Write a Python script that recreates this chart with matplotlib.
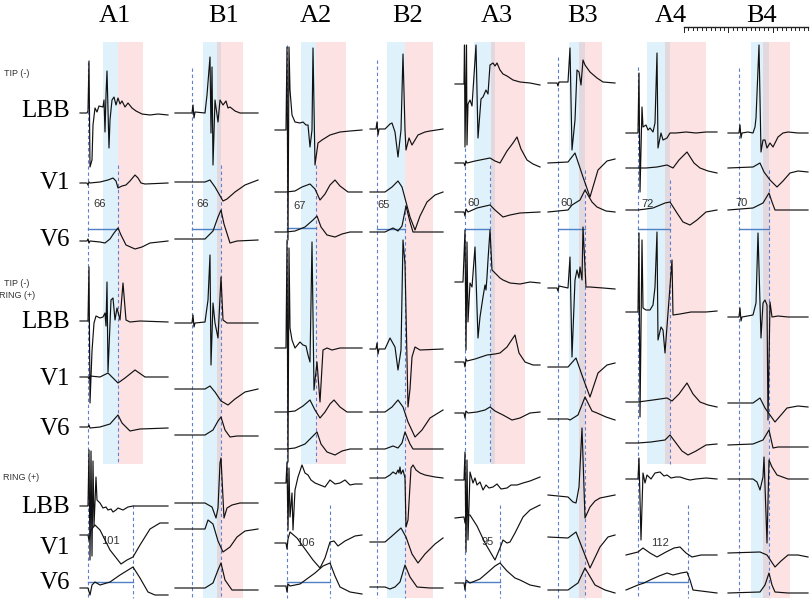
import matplotlib
matplotlib.use("Agg")
import matplotlib.pyplot as plt

# panel order and trace order
columns = ["A1", "B1", "A2", "B2", "A3", "B3", "A4", "B4"]
sections = ["tip", "bip", "ring"]
leads = ["LBB", "V1", "V6"]

# traces as (sample, amplitude) pairs
A1 = {
    ("tip", "LBB"): [(0,0),(7,0),(8,2),(9,52),(10,-54),(12,-47),(13,-12),(15,5),(17,1),(19,7),(23,6),(24,13),(25,-19),(26,18),(27,42),(28,3),(29,-35),(30,-7),(32,13),(34,16),(36,8),(38,15),(40,9),(42,12),(45,6),(48,10),(52,5),(56,2),(62,-1),(70,-2),(78,-1),(88,-2)],
    ("tip", "V1"): [(0,0),(7,0),(8,-2),(9,1),(10,0),(20,1),(28,3),(33,5),(36,2),(38,-5),(42,-3),(46,-2),(50,2),(55,8),(58,5),(61,0),(65,-1),(88,0)],
    ("tip", "V6"): [(0,0),(7,0),(8,2),(9,-2),(10,0),(20,-1),(25,-2),(30,2),(34,8),(38,13),(41,6),(46,-4),(55,-8),(62,-6),(70,-2),(88,0)],
    ("bip", "LBB"): [(0,0),(8,0),(9,54),(10,-82),(12,-30),(14,-2),(16,5),(20,3),(23,4),(25,8),(26,-5),(27,39),(28,-51),(31,21),(33,23),(35,1),(37,13),(40,1),(43,38),(46,1),(50,-1),(60,0),(88,-1)],
    ("bip", "V1"): [(0,0),(8,0),(9,-2),(10,1),(20,0),(28,4),(38,-6),(45,-1),(55,7),(65,0),(88,0)],
    ("bip", "V6"): [(0,0),(8,0),(9,2),(10,-1),(20,0),(30,3),(38,12),(42,4),(50,-4),(60,-2),(88,-1)],
    ("ring", "LBB"): [(0,0),(8,0),(9,56),(10,-54),(11,55),(12,-50),(13,45),(14,-20),(16,29),(17,6),(20,3),(23,-2),(26,-1),(28,-4),(31,-3),(33,-6),(36,-4),(38,-2),(43,-4),(48,-1),(53,0),(88,0)],
    ("ring", "V1"): [(0,0),(8,0),(9,-5),(11,5),(15,10),(20,5),(30,-15),(41,-29),(47,-25),(53,-22),(60,-10),(70,6),(80,12),(88,12)],
    ("ring", "V6"): [(0,0),(8,0),(10,-7),(12,3),(15,6),(20,3),(30,6),(40,13),(53,21),(60,10),(68,-4),(75,-7),(88,-7)],
}
B1 = {
    ("tip", "LBB"): [(0,0),(17,0),(18,8),(19,-5),(20,1),(30,0),(32,18),(35,56),(36,-20),(37,46),(38,-52),(40,13),(43,-9),(45,13),(48,8),(51,12),(53,5),(55,6),(60,2),(65,0),(83,0)],
    ("tip", "V1"): [(0,0),(30,0),(35,2),(40,-5),(48,-19),(52,-17),(60,-10),(70,-3),(83,2)],
    ("tip", "V6"): [(0,0),(30,0),(38,8),(43,22),(46,29),(49,15),(55,-4),(62,-2),(83,-1)],
    ("bip", "LBB"): [(0,0),(17,0),(18,8),(19,-4),(20,0),(30,1),(33,23),(35,68),(36,-42),(38,20),(40,0),(43,-15),(46,46),(48,3),(52,0),(83,0)],
    ("bip", "V1"): [(0,0),(30,0),(35,3),(40,-3),(46,-12),(53,-16),(60,-10),(70,-3),(83,0)],
    ("bip", "V6"): [(0,0),(30,0),(38,5),(43,14),(46,18),(50,5),(55,-2),(62,-1),(83,-1)],
    ("ring", "LBB"): [(0,0),(30,0),(37,-4),(41,-15),(43,-5),(45,40),(46,45),(49,-15),(52,-5),(57,-2),(65,0),(83,0)],
    ("ring", "V1"): [(0,0),(30,0),(33,9),(38,5),(43,-12),(48,-23),(55,-18),(62,-8),(70,-2),(83,0)],
    ("ring", "V6"): [(0,0),(30,0),(38,5),(43,18),(46,25),(50,8),(57,-2),(83,-2)],
}
A2 = {
    ("tip", "LBB"): [(0,0),(11,0),(12,83),(13,-110),(14,83),(15,40),(17,15),(20,8),(25,7),(28,8),(31,5),(33,5),(35,-17),(37,0),(38,82),(40,-35),(43,-13),(47,-10),(55,-5),(65,-2),(75,-1),(87,0)],
    ("tip", "V1"): [(0,0),(11,0),(20,1),(27,5),(35,8),(40,3),(45,-8),(50,-2),(55,7),(60,12),(65,6),(73,0),(87,0)],
    ("tip", "V6"): [(0,0),(11,0),(20,1),(30,5),(38,12),(42,16),(46,5),(52,-3),(60,-5),(67,-2),(75,0),(87,0)],
    ("bip", "LBB"): [(0,0),(11,0),(12,108),(13,-114),(14,100),(15,20),(17,8),(20,0),(25,6),(28,3),(31,2),(33,-7),(35,-14),(37,106),(39,-42),(42,-14),(45,-54),(48,-2),(52,0),(57,-2),(65,0),(87,0)],
    ("bip", "V1"): [(0,0),(11,0),(20,1),(28,6),(35,12),(40,2),(45,-6),(50,0),(55,8),(59,12),(65,5),(72,0),(87,0)],
    ("bip", "V6"): [(0,0),(11,0),(20,1),(30,5),(38,13),(42,17),(46,5),(52,-3),(60,-6),(67,-2),(75,0),(87,0)],
    ("ring", "LBB"): [(0,0),(11,0),(12,21),(13,-47),(14,15),(15,-34),(17,-10),(18,-47),(20,-7),(23,6),(27,18),(30,10),(33,8),(36,3),(40,0),(45,-2),(50,-4),(55,3),(60,-1),(65,0),(70,3),(75,-2),(80,-1),(87,-1)],
    ("ring", "V1"): [(0,0),(11,0),(12,-6),(13,4),(15,11),(22,5),(30,-6),(38,-17),(45,-25),(50,-15),(55,1),(59,2),(63,-3),(70,2),(80,7),(87,8)],
    ("ring", "V6"): [(0,0),(11,0),(12,-6),(13,2),(15,0),(25,2),(40,13),(48,20),(55,23),(60,10),(65,-1),(75,-6),(87,-8)],
}
B2 = {
    ("tip", "LBB"): [(0,0),(6,0),(7,7),(8,-6),(9,0),(15,0),(20,5),(22,6),(25,-3),(28,-28),(31,-1),(33,75),(35,-1),(36,-21),(39,-9),(42,-16),(48,-6),(55,-3),(60,-2),(73,0)],
    ("tip", "V1"): [(0,0),(15,0),(22,5),(28,11),(32,5),(36,-10),(40,-25),(45,-38),(50,-24),(57,-10),(65,-3),(73,0)],
    ("tip", "V6"): [(0,0),(15,0),(23,4),(28,1),(32,6),(36,26),(40,10),(43,0),(50,0),(73,0)],
    ("bip", "LBB"): [(0,0),(6,0),(7,6),(8,-5),(9,0),(15,0),(20,11),(25,2),(28,-21),(31,-1),(33,109),(35,85),(38,-58),(40,-40),(42,-8),(45,2),(50,-1),(73,0)],
    ("bip", "V1"): [(0,0),(15,0),(22,5),(28,12),(33,5),(38,-10),(45,-25),(52,-18),(60,-6),(73,2)],
    ("bip", "V6"): [(0,0),(15,0),(23,3),(28,1),(32,6),(35,17),(40,5),(43,0),(73,0)],
    ("ring", "LBB"): [(0,0),(15,0),(20,3),(23,6),(26,4),(28,8),(29,5),(30,11),(31,4),(33,8),(35,0),(36,-49),(38,-42),(41,10),(43,13),(46,8),(50,5),(55,3),(65,1),(73,0)],
    ("ring", "V1"): [(0,0),(15,0),(22,6),(31,14),(36,5),(42,-12),(48,-21),(55,-12),(65,-2),(73,4)],
    ("ring", "V6"): [(0,0),(15,0),(20,-2),(25,0),(30,5),(35,22),(40,10),(47,0),(60,-1),(73,-1)],
}
A3 = {
    ("tip", "LBB"): [(0,0),(9,0),(9.5,39),(10,-63),(11.5,39),(12,-61),(13,-20),(15,-16),(17,-22),(21,39),(23,-54),(26,-15),(28,-13),(31,-6),(33,-10),(35,19),(38,21),(40,18),(42,21),(45,14),(48,10),(52,8),(58,4),(65,2),(75,1),(85,-1)],
    ("tip", "V1"): [(0,0),(9,0),(10,-3),(11,2),(12,0),(20,2),(30,4),(35,5),(40,2),(45,0),(52,12),(58,20),(62,26),(66,14),(72,3),(78,-1),(85,-4)],
    ("tip", "V6"): [(0,0),(9,0),(10,-4),(11,3),(13,0),(22,4),(35,7),(40,2),(48,-5),(55,-3),(65,-1),(85,0)],
    ("bip", "LBB"): [(0,0),(8,0),(10,52),(11,-68),(12,40),(13,-40),(15,-1),(17,-5),(20,35),(23,-56),(25,-35),(28,-15),(30,-3),(31,-8),(32,5),(33,22),(35,52),(37,12),(40,9),(42,7),(45,4),(48,2),(55,-1),(65,-2),(75,0),(85,-1)],
    ("bip", "V1"): [(0,0),(9,0),(10,-5),(11,3),(12,1),(20,3),(32,7),(40,8),(45,9),(52,15),(60,27),(64,9),(70,0),(78,-3),(85,-3)],
    ("bip", "V6"): [(0,0),(9,0),(10,-5),(11,2),(13,0),(22,1),(30,3),(35,6),(40,2),(48,-2),(57,-7),(65,-5),(75,0),(85,1)],
    ("ring", "LBB"): [(0,0),(9,0),(10,28),(11,-72),(12,20),(13,-60),(15,8),(18,-3),(20,2),(22,-5),(25,-2),(28,-10),(31,-5),(34,-8),(38,-7),(42,-4),(46,-9),(52,-8),(56,-5),(62,-5),(68,-3),(75,-1),(85,3)],
    ("ring", "V1"): [(0,0),(9,1),(10,-5),(11,3),(15,3),(22,-8),(30,-25),(40,-42),(45,-30),(48,-22),(52,-25),(55,-24),(60,-15),(68,1),(75,8),(85,13)],
    ("ring", "V6"): [(0,0),(9,0),(10,-7),(11,3),(15,0),(25,4),(32,10),(40,17),(45,20),(52,12),(60,5),(65,3),(75,-2),(85,-4)],
}
B3 = {
    ("tip", "LBB"): [(0,0),(9,0),(10,-3),(11,1),(20,1),(22,35),(24,-67),(27,-37),(29,13),(31,11),(33,-2),(35,23),(37,18),(42,11),(49,5),(55,1),(67,0)],
    ("tip", "V1"): [(0,0),(20,1),(27,10),(35,-14),(42,-34),(50,-7),(59,2),(67,4)],
    ("tip", "V6"): [(0,0),(20,2),(24,7),(32,12),(37,22),(44,10),(49,5),(58,1),(67,0)],
    ("bip", "LBB"): [(0,0),(9,0),(10,-3),(11,2),(20,0),(22,31),(24,-69),(27,8),(29,18),(31,10),(32,21),(34,8),(35,61),(38,1),(42,1),(55,0),(67,-1)],
    ("bip", "V1"): [(0,0),(20,0),(28,9),(35,-11),(42,-30),(50,-6),(59,2),(67,4)],
    ("bip", "V6"): [(0,0),(20,0),(22,-1),(30,4),(37,22),(44,8),(49,6),(58,2),(67,-1)],
    ("ring", "LBB"): [(0,0),(20,-2),(25,-7),(28,-8),(29,-3),(31,8),(34,67),(37,-23),(42,-12),(47,-6),(52,-3),(67,0)],
    ("ring", "V1"): [(0,0),(20,-1),(28,5),(35,-13),(42,-31),(52,-10),(60,0),(67,2)],
    ("ring", "V6"): [(0,0),(20,0),(30,7),(37,22),(47,5),(57,0),(67,-3)],
}
A4 = {
    ("tip", "LBB"): [(0,0),(12,0),(13,60),(14,-59),(16,26),(17,6),(20,8),(22,3),(24,5),(27,1),(29,10),(31,80),(32,-15),(35,0),(37,-7),(41,-5),(44,0),(50,0),(60,1),(70,0),(80,1),(91,1)],
    ("tip", "V1"): [(0,0),(12,0),(20,0),(31,1),(41,3),(47,0),(53,8),(61,16),(68,5),(74,0),(82,-3),(91,-5)],
    ("tip", "V6"): [(0,0),(12,0),(20,1),(27,2),(39,7),(44,8),(51,-3),(57,-12),(64,-15),(71,-10),(80,-2),(91,0)],
    ("bip", "LBB"): [(0,0),(12,0),(13,79),(14,-105),(16,72),(17,4),(20,2),(24,2),(27,7),(29,25),(31,80),(32,-28),(35,-15),(37,-18),(39,-41),(42,-1),(46,52),(47,-3),(54,-2),(65,0),(80,0),(91,1)],
    ("bip", "V1"): [(0,0),(12,0),(27,2),(41,4),(46,1),(53,8),(61,19),(67,8),(74,0),(82,-3),(91,-5)],
    ("bip", "V6"): [(0,0),(12,0),(25,1),(39,3),(44,8),(50,0),(56,-8),(62,-12),(70,-8),(80,-2),(91,-1)],
    ("ring", "LBB"): [(0,0),(12,0),(13,21),(15,-61),(17,6),(19,-4),(21,4),(25,0),(29,6),(34,7),(38,3),(41,4),(45,1),(50,2),(54,2),(60,0),(64,-1),(70,0),(80,1),(91,0)],
    ("ring", "V1"): [(0,0),(12,3),(17,7),(24,2),(31,-2),(40,3),(48,7),(54,8),(60,2),(66,-2),(75,0),(91,0)],
    ("ring", "V6"): [(0,0),(12,5),(18,7),(24,10),(33,14),(41,17),(47,15),(55,17),(61,18),(64,10),(67,0),(75,-1),(91,-3)],
}
B4 = {
    ("tip", "LBB"): [(0,0),(11,0),(12,8),(13,-5),(14,0),(20,1),(25,0),(27,6),(28,15),(31,88),(33,-19),(35,-7),(37,-7),(39,-15),(42,-10),(45,-14),(50,-4),(55,0),(60,1),(70,0),(80,0)],
    ("tip", "V1"): [(0,0),(25,1),(32,5),(36,-4),(42,-12),(49,-19),(55,-13),(62,-5),(70,-3),(80,-4)],
    ("tip", "V6"): [(0,0),(25,2),(35,7),(41,17),(44,8),(47,0),(55,0),(80,0)],
    ("bip", "LBB"): [(0,0),(11,0),(12,9),(13,-4),(14,0),(25,2),(28,14),(30,84),(33,-21),(35,14),(37,17),(39,12),(40,-103),(42,15),(44,0),(50,1),(60,0),(80,0)],
    ("bip", "V1"): [(0,0),(25,0),(32,5),(37,-5),(42,-12),(47,-19),(53,-12),(59,-5),(70,-3),(80,-4)],
    ("bip", "V6"): [(0,0),(25,1),(35,5),(41,15),(45,-3),(50,-2),(80,-2)],
    ("ring", "LBB"): [(0,0),(25,0),(29,-3),(32,-11),(35,2),(36,22),(39,-64),(41,19),(44,12),(49,4),(60,0),(80,0)],
    ("ring", "V1"): [(0,0),(32,1),(39,-2),(43,-8),(47,-14),(53,-8),(60,-2),(70,-2),(80,-4)],
    ("ring", "V6"): [(0,0),(32,1),(37,8),(41,20),(44,8),(47,1),(60,0),(80,0)],
}
traces = {"A1": A1, "B1": B1, "A2": A2, "B2": B2, "A3": A3, "B3": B3, "A4": A4, "B4": B4}

# QRS durations written on the panels
qrs_tip = {"A1": 66, "B1": 66, "A2": 67, "B2": 65, "A3": 60, "B3": 60, "A4": 72, "B4": 70}
qrs_ring = {"A1": 101, "A2": 106, "A3": 95, "A4": 112}

# intervals (samples from panel start): blue, overlap, pink, markers
blue_span = {"A1": (23,38), "B1": (28,42), "A2": (26,41), "B2": (17,35), "A3": (19,36), "B3": (21,31), "A4": (21,39), "B4": (23,35)}
grey_span = {"B1": (42,46), "A3": (36,40), "B3": (31,37), "A4": (39,44), "B4": (35,41)}
pink_span = {"A1": (38,63), "B1": (46,68), "A2": (41,71), "B2": (35,63), "A3": (40,70), "B3": (37,54), "A4": (44,80), "B4": (41,62)}
onset = {"A1": 8, "B1": 17, "A2": 12, "B2": 7, "A3": 10, "B3": 10, "A4": 12, "B4": 11}
qrs_end = {"A1": 38, "B1": 46, "A2": 41, "B2": 35, "A3": 35, "B3": 37, "A4": 44, "B4": 41}
ring_end = {"A1": 53, "A2": 55, "A3": 45, "A4": 62}

# ---- layout (pixels) ----
x0 = {"A1": 80, "B1": 175, "A2": 275, "B2": 370, "A3": 455, "B3": 548, "A4": 626, "B4": 728}
base = {
    "A1": [113, 183, 241, 321, 377, 427, 506, 535, 588],
    "B1": [113, 182, 239, 323, 389, 435, 503, 529, 588],
    "A2": [130, 192, 232, 348, 412, 449, 483, 543, 586],
    "B2": [129, 192, 232, 349, 412, 449, 478, 542, 587],
    "A3": [84, 163, 212, 282, 362, 413, 480, 518, 583],
    "B3": [83, 163, 212, 288, 367, 419, 495, 537, 590],
    "A4": [133, 168, 210, 312, 402, 443, 479, 555, 590],
    "B4": [133, 168, 210, 317, 403, 445, 479, 553, 593],
}
head_x = {"A1": 115, "B1": 224, "A2": 316, "B2": 408, "A3": 497, "B3": 583, "A4": 671, "B4": 762}
onset_top = {"A1": 62, "B1": 68, "A2": 45, "B2": 60, "A3": 148, "B3": 57, "A4": 67, "B4": 68}
end_top = {"A1": 165, "B1": 165, "A2": 165, "B2": 205, "A3": 165, "B3": 170, "A4": 180, "B4": 170}
qrs_line_y = {"A1": 229, "B1": 229, "A2": 228, "B2": 229, "A3": 229, "B3": 229, "A4": 229, "B4": 229}
num_pos = {"A1": (100, 204), "B1": (203, 204), "A2": (300, 206), "B2": (384, 205),
           "A3": (474, 203), "B3": (567, 203), "A4": (648, 204), "B4": (742, 203)}
ring_num_pos = {"A1": (110, 541), "A2": (305, 543), "A3": (488, 542), "A4": (660, 543)}

BLUE = "#dff1fa"
PINK = "#fde2e4"
GREY = "#e2d8de"
DASH = "#5f7fcf"
HLINE = "#4f7fc4"

fig = plt.figure(figsize=(8.1, 6.0), dpi=100)
ax = fig.add_axes([0, 0, 1, 1])
ax.set_xlim(0, 810)
ax.set_ylim(600, 0)
ax.axis("off")

for c in columns:
    xs = x0[c]
    bottom = 464 if c.startswith("A") else 598
    b0, b1 = blue_span[c]
    ax.fill_between([xs + b0, xs + b1], 42, bottom, color=BLUE, lw=0, zorder=0)
    p0, p1 = pink_span[c]
    ax.fill_between([xs + p0, xs + p1], 42, bottom, color=PINK, lw=0, zorder=0)
    if c in grey_span:
        g0, g1 = grey_span[c]
        ax.fill_between([xs + g0, xs + g1], 42, bottom, color=GREY, lw=0, zorder=0)

    # marker lines
    ax.plot([xs + onset[c]] * 2, [onset_top[c], 598], ls=(0, (3, 2.5)), color=DASH, lw=0.8, zorder=1)
    ax.plot([xs + qrs_end[c]] * 2, [end_top[c], bottom], ls=(0, (3, 2.5)), color=DASH, lw=0.8, zorder=1)
    if c in ring_end:
        ax.plot([xs + ring_end[c]] * 2, [505, 598], ls=(0, (3, 2.5)), color=DASH, lw=0.8, zorder=1)
        ax.plot([xs + onset[c], xs + ring_end[c]], [582, 582], color=HLINE, lw=1.0, zorder=2)
        ax.text(*ring_num_pos[c], str(qrs_ring[c]), fontsize=8, color="#333333",
                ha="center", va="center", family="Liberation Sans")
    ax.plot([xs + onset[c], xs + qrs_end[c]], [qrs_line_y[c]] * 2, color=HLINE, lw=1.0, zorder=2)
    ax.text(*num_pos[c], str(qrs_tip[c]), fontsize=8, color="#333333",
            ha="center", va="center", family="Liberation Sans")

    k = 0
    for s in sections:
        for ld in leads:
            pts = traces[c][(s, ld)]
            ax.plot([xs + t for t, v in pts], [base[c][k] - v for t, v in pts],
                    color="#111111", lw=0.85, zorder=3)
            k += 1

    ax.text(head_x[c], 16, c, fontsize=19, family="Liberation Serif",
            ha="center", va="center")

# lead labels on the left
row_y = {"LBB": [111, 322, 507], "V1": [183, 379, 548], "V6": [240, 429, 583]}
for ld in leads:
    for y in row_y[ld]:
        ax.text(70, y, ld, fontsize=18, family="Liberation Serif", ha="right", va="center")

small = dict(fontsize=6.5, color="#333333", family="Liberation Sans", va="center")
ax.text(4, 73, "TIP (-)", ha="left", **small)
ax.text(17, 283, "TIP (-)", ha="center", **small)
ax.text(17, 296, "RING (+)", ha="center", **small)
ax.text(3, 477, "RING (+)", ha="left", **small)

# time scale bar
ax.plot([684, 808], [27, 27], color="#222222", lw=1.0)
for i in range(29):
    tx = 684 + i * 44.4 / 10
    ln = 5 if i % 10 == 0 else 3
    ax.plot([tx, tx], [27, 27 + ln], color="#222222", lw=0.7)

fig.savefig("out.png", dpi=100)
